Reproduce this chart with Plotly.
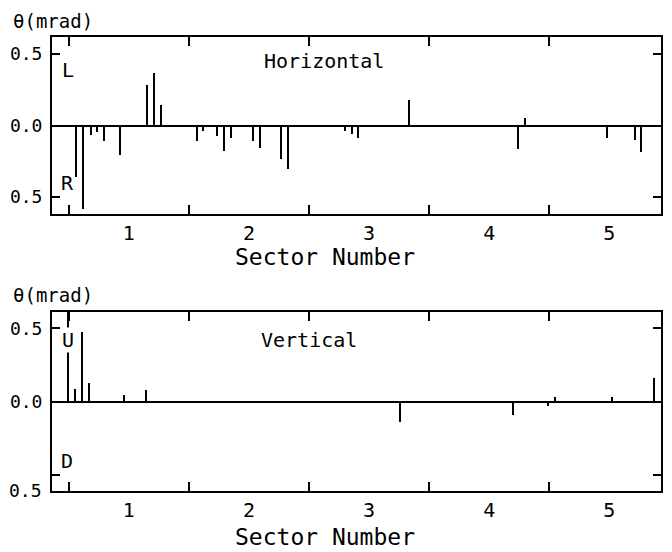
import plotly.graph_objects as go

# ---- data ----
h_sector = [0.562, 0.618, 0.682, 0.737, 0.796, 0.924, 1.154, 1.212, 1.268,
            1.565, 1.620, 1.734, 1.795, 1.853, 2.034, 2.090, 2.267, 2.328,
            2.800, 2.856, 2.911, 3.333, 4.238, 4.296, 4.979, 5.215, 5.267]
h_theta = [-0.36, -0.585, -0.065, -0.047, -0.11, -0.204, 0.281, 0.37, 0.147,
           -0.11, -0.04, -0.075, -0.18, -0.087, -0.107, -0.16, -0.232, -0.302,
           -0.04, -0.058, -0.087, 0.178, -0.164, 0.05, -0.087, -0.103, -0.185]

v_sector = [0.496, 0.552, 0.612, 0.668, 0.962, 1.143, 3.258, 4.201, 4.493,
            4.549, 5.020, 5.371]
v_theta = [0.62, 0.086, 0.476, 0.127, 0.045, 0.078, -0.143, -0.09, -0.034,
           0.03, 0.03, 0.16]

x_labels = [1, 2, 3, 4, 5]
sector_edges = [0.5, 1.5, 2.5, 3.5, 4.5]
y_tickvals = [0.5, 0.0, -0.5]
y_ticktext = ["0.5", "0.0", "0.5"]

FONT = "DejaVu Sans Mono"

fig = go.Figure()
fig.add_trace(go.Bar(x=h_sector, y=h_theta, width=0.017, marker=dict(color="black", line=dict(width=0)),
                     xaxis="x", yaxis="y", showlegend=False))
fig.add_trace(go.Bar(x=v_sector, y=v_theta, width=0.017, marker=dict(color="black", line=dict(width=0)),
                     xaxis="x2", yaxis="y2", showlegend=False))

def xax(anchor):
    return dict(anchor=anchor, domain=[0, 1], range=[0.36, 5.43], automargin=False,
                tickmode="array", tickvals=x_labels, ticktext=[str(v) for v in x_labels],
                ticks="", showgrid=False, zeroline=False,
                showline=True, linecolor="black", linewidth=2, mirror="ticks",
                minor=dict(tickmode="array", tickvals=sector_edges, ticks="inside",
                           ticklen=9, tickwidth=2, tickcolor="black", showgrid=False),
                tickfont=dict(family=FONT, size=20, color="black"), ticklabelstandoff=0)

def yax(anchor, domain, rng, text):
    return dict(anchor=anchor, domain=domain, range=rng, automargin=False,
                tickmode="array", tickvals=y_tickvals, ticktext=text,
                ticks="inside", ticklen=8, tickwidth=2, tickcolor="black",
                showgrid=False, zeroline=True, zerolinecolor="black", zerolinewidth=2,
                showline=True, linecolor="black", linewidth=2, mirror="ticks",
                tickfont=dict(family=FONT, size=18, color="black"), ticklabelstandoff=4)

# the page body adds an 8px offset, so the figure is sized/margined to compensate
fig.update_layout(
    width=664, height=544,
    margin=dict(l=44, r=11, t=29, b=61, autoexpand=False),
    paper_bgcolor="white", plot_bgcolor="white",
    bargap=0,
    xaxis=xax("y"),
    yaxis=yax("x", [0.610, 1.0], [-0.62, 0.62], y_ticktext),
    xaxis2=xax("y2"),
    yaxis2=yax("x2", [0.0, 0.394], [-0.61, 0.61], ["0.5", "0.0", ""]),
)

def ann(text, x, y, size, xanchor="center", yanchor="middle", bg=None):
    d = dict(text=text, x=x, y=y, xref="paper", yref="paper", showarrow=False,
             xanchor=xanchor, yanchor=yanchor, borderpad=0,
             font=dict(family=FONT, size=size, color="black"))
    if bg:
        d["bgcolor"] = bg
    fig.add_annotation(**d)

ann("θ(mrad)", -0.066, 1.062, 19, xanchor="left", yanchor="top")
ann("θ(mrad)", -0.066, 0.432, 19, xanchor="left")
ann("Horizontal", 0.447, 0.947, 20)
ann("Vertical", 0.422, 0.333, 20)
ann("L", 0.026, 0.927, 20)
ann("R", 0.026, 0.678, 20)
ann("U", 0.026, 0.333, 20, bg="white")
ann("D", 0.025, 0.066, 20)
ann("Sector Number", 0.448, 0.516, 23)
ann("Sector Number", 0.448, -0.101, 23)
ann("0.5", -0.015, 0.002, 18, xanchor="right")

fig.write_html("out.html")
